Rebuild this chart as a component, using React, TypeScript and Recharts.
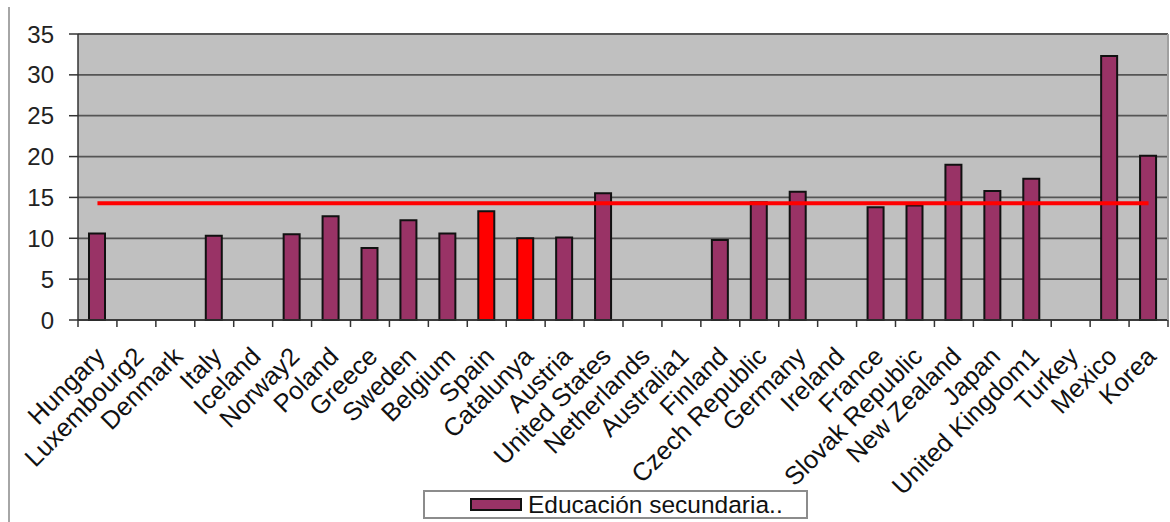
import {
  Bar,
  BarChart,
  CartesianGrid,
  Cell,
  Legend,
  ReferenceLine,
  XAxis,
  YAxis,
} from 'recharts'

document.body.style.margin = '0'

const countries = [
  'Hungary',
  'Luxembourg2',
  'Denmark',
  'Italy',
  'Iceland',
  'Norway2',
  'Poland',
  'Greece',
  'Sweden',
  'Belgium',
  'Spain',
  'Catalunya',
  'Austria',
  'United States',
  'Netherlands',
  'Australia1',
  'Finland',
  'Czech Republic',
  'Germany',
  'Ireland',
  'France',
  'Slovak Republic',
  'New Zealand',
  'Japan',
  'United Kingdom1',
  'Turkey',
  'Mexico',
  'Korea',
]

const secundaria: Array<number | null> = [
  10.6, null, null, 10.3, null, 10.5, 12.7, 8.8, 12.2, 10.6, 13.3, 10.0, 10.1,
  15.5, null, null, 9.8, 14.4, 15.7, null, 13.8, 14.0, 19.0, 15.8, 17.3, null,
  32.3, 20.1,
]

const highlighted = ['Spain', 'Catalunya']
const averageValue = 14.3
const yTicks = [0, 5, 10, 15, 20, 25, 30, 35]
const seriesName = 'Educación secundaria..'

const FONT = '"Liberation Sans", Arial, sans-serif'
const CHART_W = 1170
const CHART_H = 522
const PLOT_LEFT = 78
const PLOT_RIGHT = 1168
const PLOT_TOP = 34
const AXIS_Y = 320
const BAND = (PLOT_RIGHT - PLOT_LEFT) / countries.length

const data = countries.map((country, i) => ({
  country,
  value: secundaria[i],
}))

function CountryTick(props: any) {
  const { x, payload, index } = props
  const left = x - BAND / 2
  const tx = x + 9
  const ty = AXIS_Y + 38
  return (
    <g>
      <line x1={left} y1={AXIS_Y} x2={left} y2={AXIS_Y + 7} stroke="#333" strokeWidth={1.5} />
      {index === countries.length - 1 && (
        <line
          x1={x + BAND / 2}
          y1={AXIS_Y}
          x2={x + BAND / 2}
          y2={AXIS_Y + 7}
          stroke="#333"
          strokeWidth={1.5}
        />
      )}
      <text
        x={tx}
        y={ty}
        textAnchor="end"
        transform={`rotate(-45 ${tx} ${ty})`}
        fill="#111"
        fontSize={25.5}
        fontFamily={FONT}
      >
        {payload.value}
      </text>
    </g>
  )
}

function LegendBox(props: any) {
  const item = props.payload?.[0]
  return (
    <div
      style={{
        boxSizing: 'border-box',
        width: 385,
        height: 29,
        border: '2px solid #8c8c8c',
        background: '#fff',
        display: 'flex',
        alignItems: 'center',
        paddingLeft: 45,
        fontFamily: FONT,
        fontSize: 24.5,
        lineHeight: '25px',
        color: '#111',
        whiteSpace: 'nowrap',
      }}
    >
      <span
        style={{
          display: 'inline-block',
          boxSizing: 'border-box',
          width: 52,
          height: 13,
          background: '#993366',
          border: '2px solid #111',
          marginRight: 6,
        }}
      />
      <span>{item ? item.value : seriesName}</span>
    </div>
  )
}

export default function App() {
  return (
    <div style={{ position: 'relative', width: CHART_W, height: CHART_H, background: '#fff' }}>
      <div
        style={{
          position: 'absolute',
          left: 8,
          top: 7,
          width: 2,
          height: CHART_H - 7,
          background: '#a6a6a6',
        }}
      />
      <BarChart
        width={CHART_W}
        height={CHART_H}
        data={data}
        margin={{ top: PLOT_TOP, right: CHART_W - PLOT_RIGHT, left: 0, bottom: 0 }}
        barSize={16}
      >
        <CartesianGrid
          vertical={false}
          stroke="#555"
          strokeWidth={1.8}
          fill="#c0c0c0"
          fillOpacity={1}
        />
        <XAxis
          dataKey="country"
          interval={0}
          height={CHART_H - AXIS_Y}
          tick={<CountryTick />}
          tickLine={false}
          axisLine={{ stroke: '#333', strokeWidth: 1.5 }}
        />
        <YAxis
          width={PLOT_LEFT}
          domain={[0, 35]}
          ticks={yTicks}
          interval={0}
          tickSize={9}
          tickMargin={15}
          tick={{ fill: '#222', fontSize: 24, fontFamily: FONT }}
          axisLine={{ stroke: '#333', strokeWidth: 1.5 }}
          tickLine={{ stroke: '#333', strokeWidth: 1.5 }}
        />
        <Bar
          dataKey="value"
          name={seriesName}
          fill="#993366"
          stroke="#111"
          strokeWidth={2}
          isAnimationActive={false}
        >
          {data.map((d) => (
            <Cell
              key={d.country}
              fill={highlighted.includes(d.country) ? '#ff0000' : '#993366'}
            />
          ))}
        </Bar>
        <ReferenceLine
          segment={[
            { x: countries[0], y: averageValue },
            { x: countries[countries.length - 1], y: averageValue },
          ]}
          stroke="#ff0000"
          strokeWidth={4}
          ifOverflow="visible"
        />
        <Legend
          layout="horizontal"
          verticalAlign="middle"
          align="center"
          content={<LegendBox />}
          wrapperStyle={{ position: 'absolute', left: 423, top: 490, width: 385, height: 29 }}
        />
      </BarChart>
      <div
        style={{
          position: 'absolute',
          left: PLOT_RIGHT - 1,
          top: PLOT_TOP,
          width: 2,
          height: AXIS_Y - PLOT_TOP,
          background: '#a0a0a0',
          pointerEvents: 'none',
        }}
      />
    </div>
  )
}
